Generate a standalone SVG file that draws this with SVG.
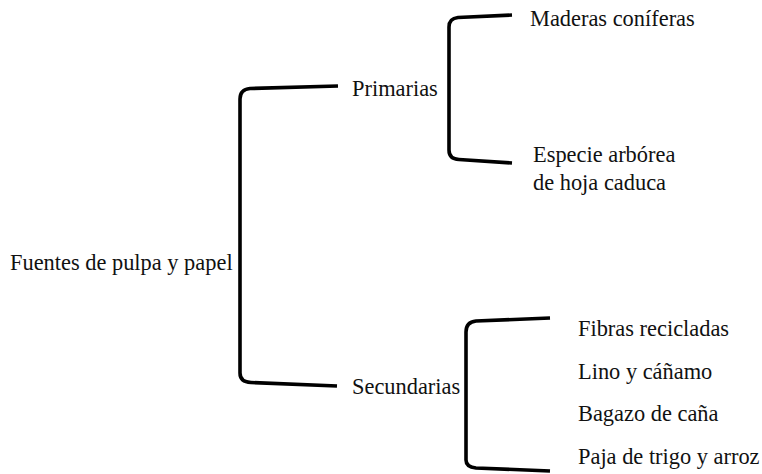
<svg xmlns="http://www.w3.org/2000/svg" width="762" height="474" viewBox="0 0 762 474">
  <style>
    .lbl { font-family: 'Liberation Serif', 'Times New Roman', Times, serif; font-size: 22.4px; fill: #111; }
    .brace { fill: none; stroke: #000; stroke-width: 3.6; stroke-linecap: butt; stroke-linejoin: round; }
  </style>
  <rect width="762" height="474" fill="#fff"/>

  <!-- bracket connectors -->
  <g id="connectors">
    <path class="brace" d="M 338 86 L 250 88.5 Q 240 89.5 240 99 L 240 373 Q 240 382 251 382.5 L 337 386"/>
    <path class="brace" d="M 512 15 L 458 17.5 Q 449 18.5 449 27 L 449 150 Q 449 159 459 159.5 L 512 163"/>
    <path class="brace" d="M 550 318 L 476 321 Q 466 322 466 332 L 466 460 Q 466 467 476 468 L 550 471"/>
  </g>

  <g id="root">
    <text class="lbl" x="10" y="270">Fuentes de pulpa y papel</text>
  </g>
  <g id="primarias">
    <text class="lbl" x="352" y="96">Primarias</text>
  </g>
  <g id="secundarias">
    <text class="lbl" x="352" y="394">Secundarias</text>
  </g>
  <g id="maderas">
    <text class="lbl" x="530" y="26">Maderas coníferas</text>
  </g>
  <g id="especie">
    <text class="lbl" x="533" y="162">Especie arbórea</text>
    <text class="lbl" x="533" y="190">de hoja caduca</text>
  </g>
  <g id="fibras">
    <text class="lbl" x="578" y="336">Fibras recicladas</text>
  </g>
  <g id="lino">
    <text class="lbl" x="578" y="379">Lino y cáñamo</text>
  </g>
  <g id="bagazo">
    <text class="lbl" x="578" y="421">Bagazo de caña</text>
  </g>
  <g id="paja">
    <text class="lbl" x="578" y="464">Paja de trigo y arroz</text>
  </g>
</svg>
